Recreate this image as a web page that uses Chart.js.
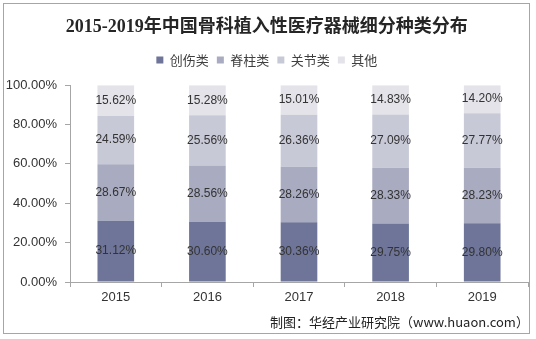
<!DOCTYPE html>
<html>
<head>
<meta charset="utf-8">
<style>
  html, body { margin: 0; padding: 0; background: #fff; }
  #wrap { width: 536px; height: 339px; }
</style>
<script src="https://cdn.jsdelivr.net/npm/chart.js@4/dist/chart.umd.min.js"></script>
</head>
<body>
<div id="wrap"><canvas id="chart" width="536" height="339"></canvas></div>
<script>
// data
var years = ["2015", "2016", "2017", "2018", "2019"];
var seriesNames = ["创伤类", "脊柱类", "关节类", "其他"];
var trauma = [31.12, 30.60, 30.36, 29.75, 29.80];
var spine = [28.67, 28.56, 28.26, 28.33, 28.23];
var joint = [24.59, 25.56, 26.36, 27.09, 27.77];
var other = [15.62, 15.28, 15.01, 14.83, 14.20];
var yTicks = [0, 20, 40, 60, 80, 100];

var colors = ["#6e7599", "#a9abc0", "#c8c9d7", "#e3e3e9"];
var cjk = "'Noto Sans CJK SC', 'Liberation Sans', sans-serif";
var latin = "'Liberation Sans', Arial, 'Noto Sans CJK SC', sans-serif";

// value labels in the middle of each segment
var segmentLabels = {
    id: 'segmentLabels',
    afterDatasetsDraw(chart) {
        var ctx = chart.ctx;
        ctx.save();
        ctx.font = "12px " + latin;
        ctx.fillStyle = "#333333";
        ctx.textAlign = "center";
        ctx.textBaseline = "middle";
        chart.data.datasets.forEach(function (ds, i) {
            chart.getDatasetMeta(i).data.forEach(function (bar, j) {
                var y = (bar.y + bar.base) / 2;
                ctx.fillText(ds.data[j].toFixed(2) + "%", bar.x, y);
            });
        });
        ctx.restore();
    }
};

// outer frame and source note
var frame = {
    id: 'frame',
    afterDraw(chart) {
        var ctx = chart.ctx;
        ctx.save();
        ctx.strokeStyle = "#a6a6a6";
        ctx.lineWidth = 1;
        ctx.strokeRect(3.5, 3.5, 526, 330);
        ctx.font = "13px " + cjk;
        ctx.fillStyle = "#222222";
        ctx.textAlign = "left";
        ctx.textBaseline = "middle";
        ctx.fillText("制图：华经产业研究院（www.huaon.com）", 270, 322);
        ctx.restore();
    }
};

var data = {
    labels: years,
    datasets: [trauma, spine, joint, other].map(function (vals, i) {
        return {
            label: seriesNames[i],
            data: vals,
            backgroundColor: colors[i],
            borderWidth: 0,
            barPercentage: 0.4,
            categoryPercentage: 1.0
        };
    })
};

var context = document.getElementById('chart').getContext('2d');

const chart = new Chart(context, {
    type: 'bar',
    data: data,
    plugins: [segmentLabels, frame],
    options: {
        responsive: false,
        animation: false,
        layout: { padding: { left: 5.7, right: 8, top: 0, bottom: 30.4 } },
        plugins: {
            title: {
                display: true,
                text: "2015-2019年中国骨科植入性医疗器械细分种类分布",
                color: "#262626",
                font: { family: "'Liberation Serif', 'Noto Sans CJK SC', serif", size: 18, weight: 'bold' },
                padding: { top: 16.5, bottom: 7.5 }
            },
            subtitle: {
                display: true,
                text: " ",
                weight: 500,
                font: { size: 1 },
                padding: { top: 7.4, bottom: 0 }
            },
            legend: {
                display: true,
                position: 'top',
                labels: {
                    boxWidth: 7,
                    boxHeight: 7,
                    padding: 8,
                    color: "#404040",
                    font: { family: cjk, size: 13 }
                }
            },
            tooltip: { enabled: false }
        },
        scales: {
            x: {
                stacked: true,
                grid: { drawOnChartArea: false, tickLength: 5, color: "#a6a6a6" },
                border: { color: "#a6a6a6" },
                ticks: { color: "#333333", padding: 3, font: { family: latin, size: 13 } }
            },
            y: {
                stacked: true,
                min: 0,
                max: 100,
                afterBuildTicks: function (axis) {
                    axis.ticks = yTicks.map(function (v) { return { value: v }; });
                },
                afterFit: function (axis) {
                    axis.width = 64.3;
                },
                grid: { drawOnChartArea: false, tickLength: 5, color: "#a6a6a6" },
                border: { color: "#a6a6a6" },
                ticks: {
                    color: "#333333",
                    padding: 8,
                    font: { family: latin, size: 13 },
                    callback: function (v) { return v.toFixed(2) + "%"; }
                }
            }
        }
    }
});
</script>
</body>
</html>
